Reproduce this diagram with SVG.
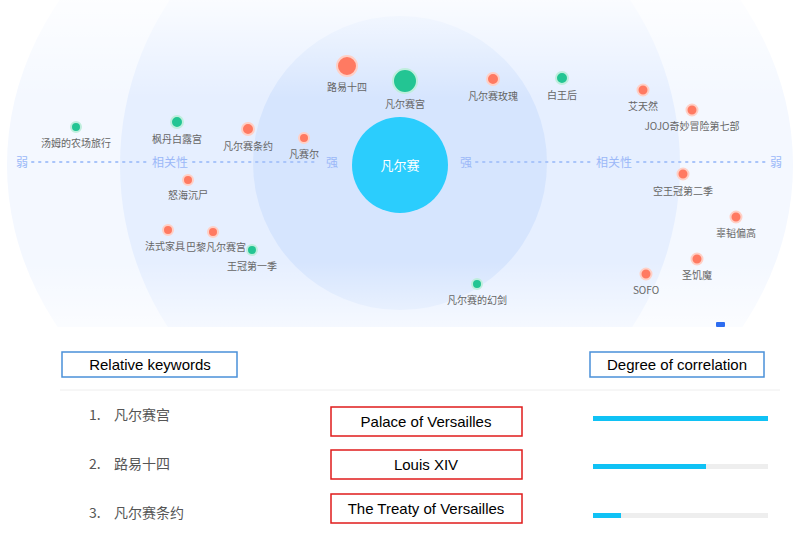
<svg xmlns="http://www.w3.org/2000/svg" width="800" height="539" viewBox="0 0 800 539">
<defs>
<style>
.l{font-family:"Noto Sans CJK SC","Liberation Sans",sans-serif;font-size:10px;fill:#666;text-anchor:middle}
.a{font-family:"Noto Sans CJK SC",sans-serif;font-size:12px;fill:#9bb8f8;text-anchor:middle}
.r{fill:#ff7a62;stroke:#ffd0c6;stroke-width:2}
.g{fill:#23c593;stroke:#bfeedd;stroke-width:2}
.b{font-family:"Liberation Sans",sans-serif;font-size:15px;fill:#000;text-anchor:middle}
.k{font-family:"Noto Sans CJK SC","Liberation Sans",sans-serif;font-size:14px;fill:#555}
</style>
<clipPath id="c"><rect x="0" y="0" width="800" height="327"/></clipPath>
<linearGradient id="f" x1="0" y1="0" x2="0" y2="1">
<stop offset="0" stop-color="#fff" stop-opacity="0.8"/><stop offset="0.3" stop-color="#fff" stop-opacity="0"/><stop offset="0.8" stop-color="#fff" stop-opacity="0"/><stop offset="1" stop-color="#fff" stop-opacity="0.6"/>
</linearGradient>
</defs>
<rect width="800" height="539" fill="#fff"/>
<g clip-path="url(#c)">
<ellipse cx="400" cy="165" rx="393" ry="330" fill="#f4f8ff"/>
<ellipse cx="400" cy="165" rx="280" ry="290" fill="#e6efff"/>
<circle cx="400" cy="163" r="147" fill="#d6e5fe"/>
<rect x="0" y="0" width="800" height="327" fill="url(#f)"/>
</g>
<g id="axis">
<line x1="32" y1="162" x2="318" y2="162" stroke="#a8c4fa" stroke-width="2" stroke-dasharray="1.5 5.5" stroke-linecap="round"/>
<line x1="476" y1="162" x2="768" y2="162" stroke="#a8c4fa" stroke-width="2" stroke-dasharray="1.5 5.5" stroke-linecap="round"/>
<rect x="150" y="154" width="40" height="16" fill="#e6efff"/>
<rect x="594" y="154" width="40" height="16" fill="#e6efff"/>
<text class="a" x="22" y="167">弱</text><text class="a" x="170" y="167">相关性</text><text class="a" x="332" y="167">强</text>
<text class="a" x="466" y="167">强</text><text class="a" x="614" y="167">相关性</text><text class="a" x="776" y="167">弱</text>
</g>
<g id="center"><circle cx="400" cy="165" r="48" fill="#2bcdfd"/><text x="400" y="170" font-family="Noto Sans CJK SC,sans-serif" font-size="13" fill="#fff" text-anchor="middle">凡尔赛</text></g>
<g id="nodes">
<g id="n1"><circle class="r" cx="347" cy="66" r="10"/><text class="l" x="347" y="91">路易十四</text></g>
<g id="n2"><circle class="g" cx="405" cy="81" r="12"/><text class="l" x="405" y="108">凡尔赛宫</text></g>
<g id="n3"><circle class="r" cx="493" cy="79" r="6"/><text class="l" x="493" y="100">凡尔赛玫瑰</text></g>
<g id="n4"><circle class="g" cx="562" cy="78" r="6"/><text class="l" x="562" y="99">白王后</text></g>
<g id="n5"><circle class="r" cx="643" cy="90" r="5.5"/><text class="l" x="643" y="110">艾天然</text></g>
<g id="n6"><circle class="r" cx="692" cy="110" r="5.5"/><text class="l" x="692" y="130">JOJO奇妙冒险第七部</text></g>
<g id="n7"><circle class="r" cx="683" cy="174" r="5.5"/><text class="l" x="683" y="195">空王冠第二季</text></g>
<g id="n8"><circle class="r" cx="736" cy="217" r="5.5"/><text class="l" x="736" y="237">辜韬偏高</text></g>
<g id="n9"><circle class="r" cx="697" cy="259" r="5.5"/><text class="l" x="697" y="279">圣饥魔</text></g>
<g id="n10"><circle class="r" cx="646" cy="274" r="5.5"/><text class="l" x="646" y="294">SOFO</text></g>
<g id="n11"><circle class="g" cx="477" cy="284" r="5"/><text class="l" x="477" y="304">凡尔赛的幻剑</text></g>
<g id="n12"><circle class="g" cx="76" cy="127" r="5"/><text class="l" x="76" y="147">汤姆的农场旅行</text></g>
<g id="n13"><circle class="g" cx="177" cy="122" r="6"/><text class="l" x="177" y="143">枫丹白露宫</text></g>
<g id="n14"><circle class="r" cx="248" cy="129" r="6"/><text class="l" x="248" y="150">凡尔赛条约</text></g>
<g id="n15"><circle class="r" cx="304" cy="138" r="5"/><text class="l" x="304" y="158">凡赛尔</text></g>
<g id="n16"><circle class="r" cx="188" cy="180" r="5"/><text class="l" x="188" y="199">怒海沉尸</text></g>
<g id="n17"><circle class="r" cx="168" cy="230" r="5"/><text class="l" x="165" y="250">法式家具</text></g>
<g id="n18"><circle class="r" cx="213" cy="232" r="5"/><text class="l" x="216" y="251">巴黎凡尔赛宫</text></g>
<g id="n19"><circle class="g" cx="252" cy="250" r="5"/><text class="l" x="252" y="270">王冠第一季</text></g>
<rect x="716" y="322" width="9" height="5" rx="1" fill="#2d6cf0"/>
</g>
<g id="table">
<line x1="60" y1="390" x2="780" y2="390" stroke="#eee"/>
<rect x="62" y="352" width="175" height="25" fill="#fff" stroke="#4a90d9" stroke-width="1.5"/><text class="b" x="150" y="370">Relative keywords</text>
<rect x="590" y="352" width="174" height="25" fill="#fff" stroke="#4a90d9" stroke-width="1.5"/><text class="b" x="677" y="370">Degree of correlation</text>
<text class="k" x="89" y="420">1.</text><text class="k" x="114" y="420">凡尔赛宫</text>
<text class="k" x="89" y="469">2.</text><text class="k" x="114" y="469">路易十四</text>
<text class="k" x="89" y="518">3.</text><text class="k" x="114" y="518">凡尔赛条约</text>
<rect x="331" y="407" width="191" height="29" fill="#fff" stroke="#e01b1b" stroke-width="1.5"/><text class="b" x="426" y="427">Palace of Versailles</text>
<rect x="331" y="450" width="191" height="29" fill="#fff" stroke="#e01b1b" stroke-width="1.5"/><text class="b" x="426" y="470">Louis XIV</text>
<rect x="331" y="494" width="191" height="29" fill="#fff" stroke="#e01b1b" stroke-width="1.5"/><text class="b" x="426" y="514">The Treaty of Versailles</text>
<rect x="593" y="416" width="175" height="5" fill="#eee"/><rect x="593" y="416" width="175" height="5" fill="#10c2f5"/>
<rect x="593" y="464" width="175" height="5" fill="#eee"/><rect x="593" y="464" width="113" height="5" fill="#10c2f5"/>
<rect x="593" y="513" width="175" height="5" fill="#eee"/><rect x="593" y="513" width="28" height="5" fill="#10c2f5"/>
</g>
</svg>
